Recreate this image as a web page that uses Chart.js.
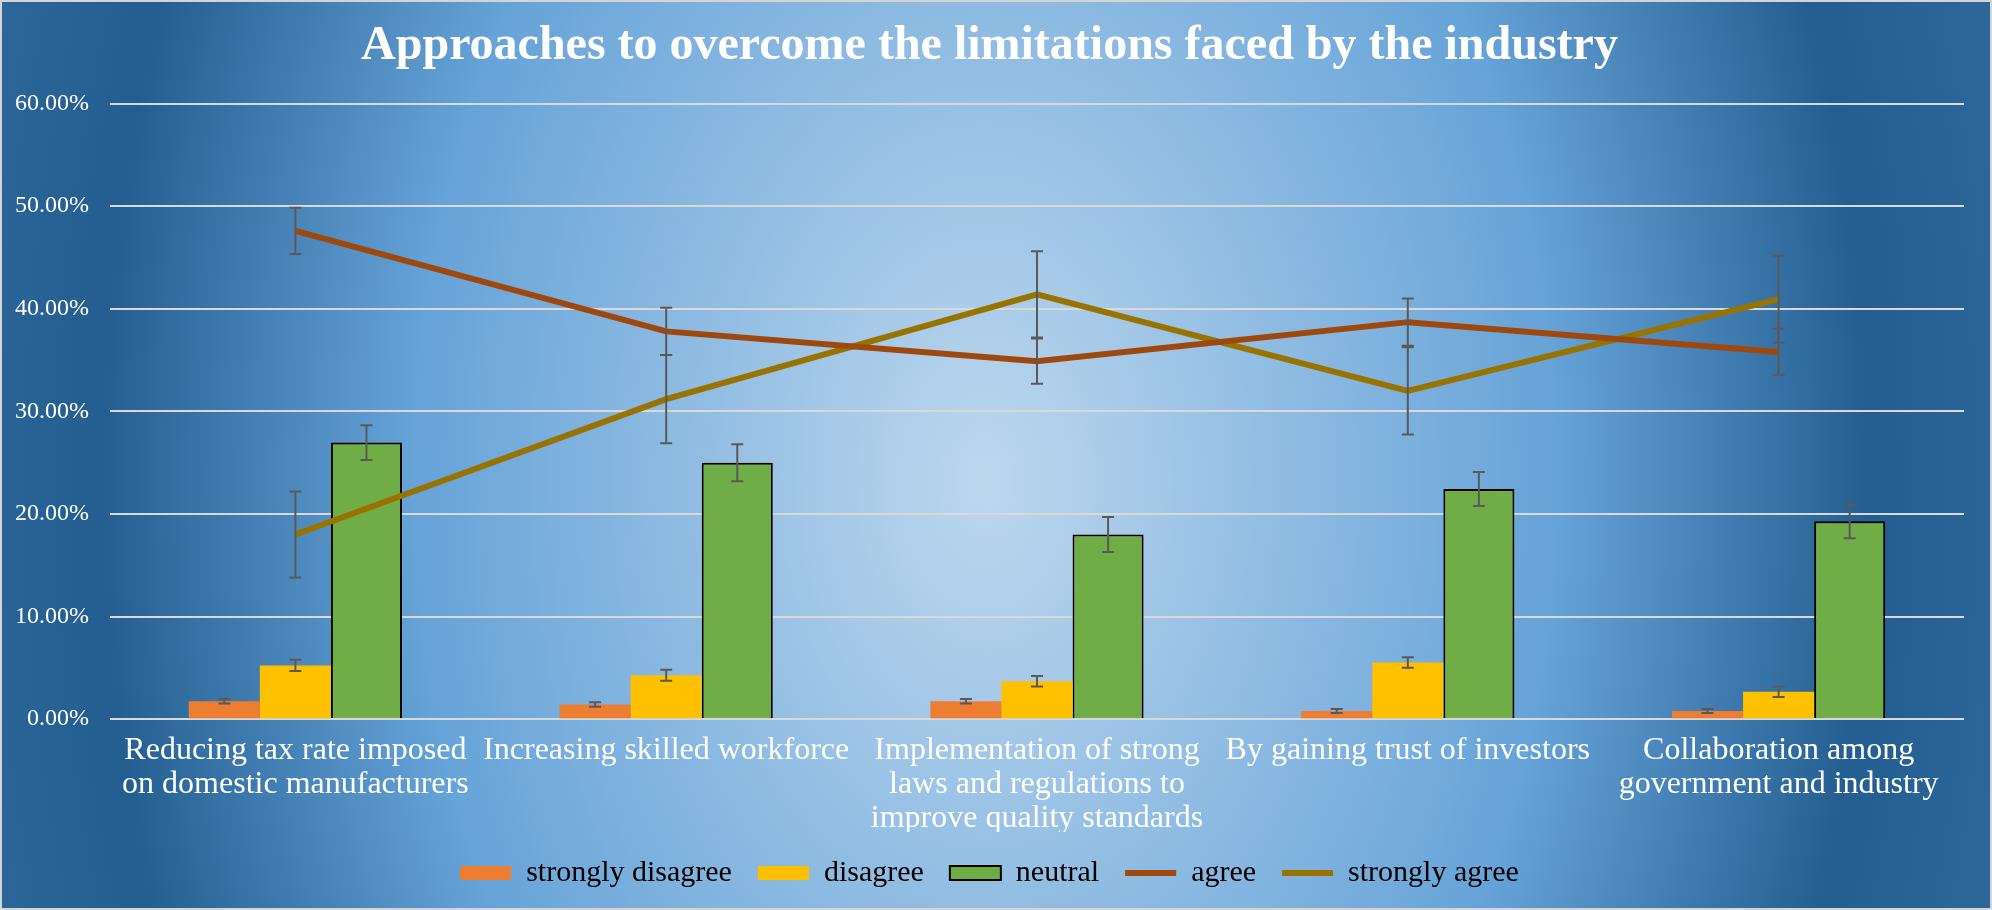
<!DOCTYPE html>
<html>
<head>
<meta charset="utf-8">
<script src="https://cdn.jsdelivr.net/npm/chart.js@4/dist/chart.umd.min.js"></script>
<style>
html, body { margin: 0; padding: 0; }
body {
  width: 1992px; height: 910px; overflow: hidden;
  background: radial-gradient(1040px 1550px at 985px 480px, #bdd7ee 0%, #66a3d8 55%, #245e91 85%, #2d6699 100%);
}
#chart { display: block; }
</style>
</head>
<body>
<canvas id="chart" width="1992" height="910"></canvas>
<script>
var categories = [
  ['Reducing tax rate imposed', 'on domestic manufacturers'],
  ['Increasing skilled workforce'],
  ['Implementation of strong', 'laws and regulations to', 'improve quality standards'],
  ['By gaining trust of investors'],
  ['Collaboration among', 'government and industry']
];
var stronglyDisagree = [1.76, 1.43, 1.76, 0.8, 0.8];
var disagree = [5.24, 4.29, 3.7, 5.53, 2.67];
var neutral = [26.96, 25.0, 18.0, 22.44, 19.3];
var agree = [47.6, 37.8, 34.9, 38.7, 35.8];
var stronglyAgree = [18.0, 31.2, 41.4, 32.0, 40.95];

// error bar half-lengths
var errStronglyDisagree = [0.22, 0.22, 0.22, 0.2, 0.2];
var errDisagree = [0.55, 0.54, 0.52, 0.52, 0.5];
var errNeutral = [1.7, 1.8, 1.7, 1.66, 1.66];
var errAgree = [2.25, 2.3, 2.2, 2.3, 2.25];
var errStronglyAgree = [4.2, 4.3, 4.2, 4.25, 4.25];

var yTicks = [0, 10, 20, 30, 40, 50, 60];

var serif = "'Liberation Serif', 'Times New Roman', serif";

var errorBars = {
  id: 'errorBars',
  afterDatasetsDraw: function (chart) {
    var ctx = chart.ctx;
    var y = chart.scales.y;
    chart.data.datasets.forEach(function (ds, i) {
      var meta = chart.getDatasetMeta(i);
      if (!ds.errors || meta.hidden) return;
      ctx.save();
      ctx.strokeStyle = '#595959';
      ctx.lineWidth = 2;
      meta.data.forEach(function (el, j) {
        var top = y.getPixelForValue(ds.data[j] + ds.errors[j]);
        var bot = y.getPixelForValue(ds.data[j] - ds.errors[j]);
        ctx.beginPath();
        ctx.moveTo(el.x, top); ctx.lineTo(el.x, bot);
        ctx.moveTo(el.x - 6, top); ctx.lineTo(el.x + 6, top);
        ctx.moveTo(el.x - 6, bot); ctx.lineTo(el.x + 6, bot);
        ctx.stroke();
      });
      ctx.restore();
    });
  }
};

var frame = {
  id: 'frame',
  afterDraw: function (chart) {
    var ctx = chart.ctx;
    ctx.save();
    ctx.strokeStyle = '#d4d4d4';
    ctx.lineWidth = 2;
    ctx.strokeRect(1, 1, chart.width - 2, chart.height - 2);
    ctx.restore();
  }
};

new Chart(document.getElementById('chart').getContext('2d'), {
  type: 'bar',
  data: {
    labels: categories,
    datasets: [
      { label: 'strongly disagree', data: stronglyDisagree, errors: errStronglyDisagree,
        backgroundColor: '#ed7d31', borderWidth: 0, order: 1 },
      { label: 'disagree', data: disagree, errors: errDisagree,
        backgroundColor: '#ffc000', borderWidth: 0, order: 1 },
      { label: 'neutral', data: neutral, errors: errNeutral,
        backgroundColor: '#70ad47', borderColor: '#000000', borderWidth: 2, order: 1 },
      { type: 'line', label: 'agree', data: agree, errors: errAgree,
        borderColor: '#9e480e', backgroundColor: '#9e480e', borderWidth: 6,
        pointRadius: 0, tension: 0, order: 0 },
      { type: 'line', label: 'strongly agree', data: stronglyAgree, errors: errStronglyAgree,
        borderColor: '#997300', backgroundColor: '#997300', borderWidth: 6,
        pointRadius: 0, tension: 0, order: 0 }
    ]
  },
  options: {
    responsive: false,
    animation: false,
    layout: { padding: { left: 15, right: 28, top: 0, bottom: 12 } },
    datasets: { bar: { categoryPercentage: 0.575, barPercentage: 1.0 } },
    plugins: {
      title: {
        display: true,
        text: 'Approaches to overcome the limitations faced by the industry',
        color: '#ffffff',
        font: { family: serif, size: 48, weight: 'bold' },
        padding: { top: 18, bottom: 28 }
      },
      legend: {
        position: 'bottom',
        labels: {
          color: '#000000',
          font: { family: serif, size: 30 },
          usePointStyle: true,
          pointStyleWidth: 51,
          boxHeight: 14,
          padding: 26,
          sort: function (a, b) { return a.datasetIndex - b.datasetIndex; },
          generateLabels: function (chart) {
            var items = Chart.defaults.plugins.legend.labels.generateLabels(chart);
            items.forEach(function (it) {
              var ds = chart.data.datasets[it.datasetIndex];
              if (ds.type === 'line') {
                it.pointStyle = 'line';
                it.strokeStyle = ds.borderColor;
                it.lineWidth = 6;
              } else {
                it.pointStyle = 'rect';
              }
            });
            return items;
          }
        }
      },
      tooltip: { enabled: false }
    },
    scales: {
      x: {
        grid: { display: false },
        border: { display: false },
        afterFit: function (scale) { scale.height -= 10; },
        ticks: {
          color: '#ffffff',
          font: { family: serif, size: 32, lineHeight: 1.05 },
          padding: 7,
          maxRotation: 0,
          autoSkip: false
        }
      },
      y: {
        min: yTicks[0],
        max: yTicks[yTicks.length - 1],
        afterBuildTicks: function (scale) {
          scale.ticks = yTicks.map(function (v) { return { value: v }; });
        },
        afterFit: function (scale) { scale.width -= 21; },
        grid: { color: '#d9d9d9', lineWidth: 2, drawTicks: false },
        border: { display: false },
        ticks: {
          color: '#ffffff',
          font: { family: serif, size: 24 },
          padding: 21,
          callback: function (v) { return v.toFixed(2) + '%'; }
        }
      }
    }
  },
  plugins: [errorBars, frame]
});
</script>
</body>
</html>
